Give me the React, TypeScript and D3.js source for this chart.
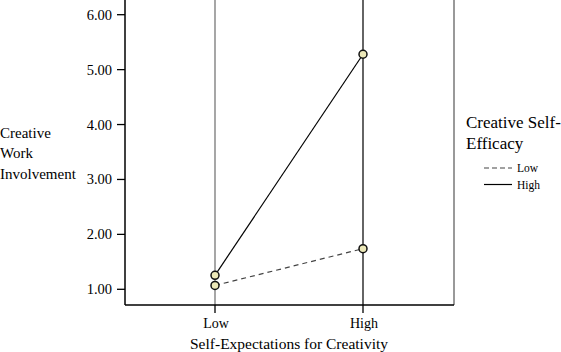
import React from "react";
import * as d3 from "d3";

const categories = ["Low", "High"];
const seriesNames = ["Low", "High"];
const lowEfficacy = [1.07, 1.74];
const highEfficacy = [1.255, 5.28];
const yTicks = [1, 2, 3, 4, 5, 6];

const W = 561;
const H = 352;

export default function App() {
  const x = d3.scalePoint<string>().domain(categories).range([215, 363]);
  const y = d3.scaleLinear().domain([1, 6]).range([289.3, 14.7]);
  const left = 125;
  const right = 454;
  const bottom = 305;
  const top = -5;
  const line = d3
    .line<number>()
    .x((_, i) => x(categories[i]) as number)
    .y((d) => y(d));
  const series = [
    { name: seriesNames[0], values: lowEfficacy, dash: "5,4" },
    { name: seriesNames[1], values: highEfficacy, dash: "" },
  ];
  const font = "'Liberation Serif', 'Times New Roman', serif";
  return (
    <svg
      width={W}
      height={H}
      style={{ position: "absolute", left: 0, top: 0, background: "#fff" }}
      fontFamily={font}
    >
      <rect x={0} y={0} width={W} height={H} fill="#fff" />
      {/* frame */}
      <line x1={right} x2={right} y1={top} y2={bottom} stroke="#777" strokeWidth={1.5} />
      {/* vertical reference lines */}
      <line x1={x("Low")} x2={x("Low")} y1={top} y2={bottom} stroke="#777" strokeWidth={1.3} />
      <line x1={x("High")} x2={x("High")} y1={top} y2={bottom} stroke="#111" strokeWidth={1.3} />
      {/* axes */}
      <line x1={left} x2={left} y1={top} y2={bottom} stroke="#000" strokeWidth={1.5} />
      <line x1={left} x2={right} y1={bottom} y2={bottom} stroke="#000" strokeWidth={1.5} />
      {yTicks.map((t) => (
        <g key={t}>
          <line x1={left - 8} x2={left} y1={y(t)} y2={y(t)} stroke="#000" strokeWidth={1.3} />
          <text x={112} y={y(t) + 5} textAnchor="end" fontSize={14.5}>
            {t.toFixed(2)}
          </text>
        </g>
      ))}
      {categories.map((c) => (
        <g key={c}>
          <line x1={x(c)} x2={x(c)} y1={bottom} y2={bottom + 8} stroke="#000" strokeWidth={1.3} />
          <text x={(x(c) as number) + 1} y={328} textAnchor="middle" fontSize={14}>
            {c}
          </text>
        </g>
      ))}
      <text x={289} y={349} textAnchor="middle" fontSize={15.5}>
        Self-Expectations for Creativity
      </text>
      <text x={0} y={138} fontSize={15}>Creative</text>
      <text x={0} y={158} fontSize={15}>Work</text>
      <text x={0} y={179} fontSize={15}>Involvement</text>
      {series.map((s) => (
        <path
          key={s.name}
          d={line(s.values) || ""}
          fill="none"
          stroke={s.dash ? "#444" : "#000"}
          strokeWidth={1.2}
          strokeDasharray={s.dash || undefined}
        />
      ))}
      {series.map((s) =>
        s.values.map((v, i) => (
          <circle
            key={s.name + i}
            cx={x(categories[i])}
            cy={y(v)}
            r={4}
            fill="#ece8b8"
            stroke="#111"
            strokeWidth={1.5}
          />
        ))
      )}
      {/* legend */}
      <text x={466} y={128} fontSize={17}>Creative Self-</text>
      <text x={466} y={149} fontSize={17}>Efficacy</text>
      {series.map((s, i) => (
        <g key={"lg" + s.name}>
          <line
            x1={484}
            x2={512}
            y1={168 + i * 16.5}
            y2={168 + i * 16.5}
            stroke={s.dash ? "#444" : "#000"}
            strokeWidth={1.2}
            strokeDasharray={s.dash ? "5,3" : undefined}
          />
          <text x={517} y={172 + i * 16.5} fontSize={11.5}>
            {s.name}
          </text>
        </g>
      ))}
    </svg>
  );
}
